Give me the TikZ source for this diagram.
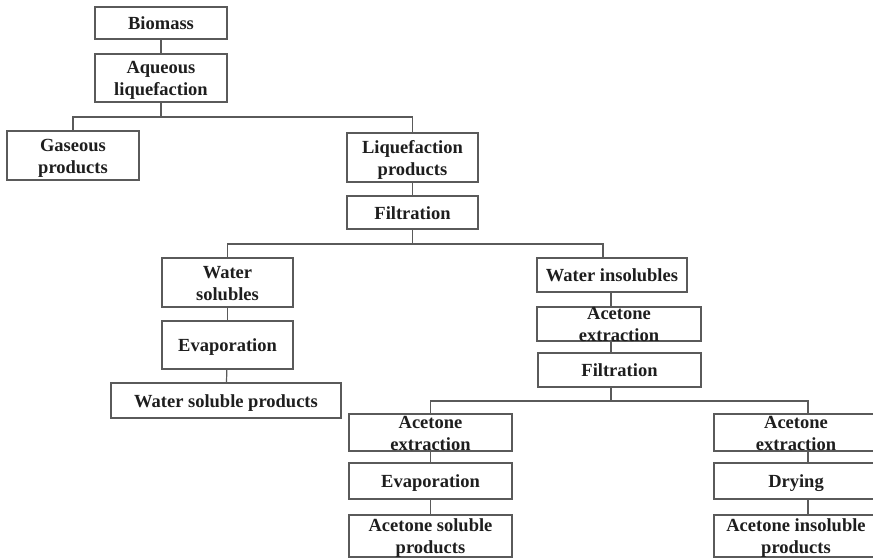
\documentclass[tikz,border=0pt]{standalone}
\usepackage{fontspec}
\setmainfont{Liberation Serif}
\definecolor{boxc}{HTML}{5A5A5A}
\definecolor{txtc}{HTML}{1E1E1E}
\newcommand{\bxt}[1]{\smash{\raisebox{-6.5pt}{\begin{tabular}{@{}c@{}}#1\end{tabular}}}}
\begin{document}
\begin{tikzpicture}[x=1pt,y=-1pt,
  box/.style={draw=boxc, line width=1.2pt, inner sep=0pt, text=txtc,
    font=\fontsize{18.5}{22}\selectfont\bfseries},
  conn/.style={draw=boxc, line width=1.2pt}]
\useasboundingbox (0,0) rectangle (873,558);
% top part
\node[box, minimum width=132pt, minimum height=32pt] (bio) at (161,23) {\bxt{Biomass}};
\node[box, minimum width=132pt, minimum height=48pt] (aq) at (161,78) {\bxt{Aqueous\\liquefaction}};
\node[box, minimum width=132pt, minimum height=49pt] (gas) at (73,155.5) {\bxt{Gaseous\\products}};
\node[box, minimum width=131pt, minimum height=49pt] (liq) at (412.5,157.5) {\bxt{Liquefaction\\products}};
\node[box, minimum width=131pt, minimum height=33pt] (filt) at (412.5,212.5) {\bxt{Filtration}};
% left branch
\node[box, minimum width=131pt, minimum height=49pt] (ws) at (227.5,282.5) {\bxt{Water\\solubles}};
\node[box, minimum width=131pt, minimum height=48pt] (evap) at (227.5,345) {\bxt{Evaporation}};
\node[box, minimum width=230pt, minimum height=35pt] (wsp) at (226,400.5) {\bxt{Water soluble products}};
% right branch
\node[box, minimum width=150pt, minimum height=34pt] (wi) at (612,275) {\bxt{Water insolubles}};
\node[box, minimum width=164pt, minimum height=34pt] (ae) at (619,324) {\bxt{Acetone\\extraction}};
\node[box, minimum width=163pt, minimum height=34pt] (filtb) at (619.5,370) {\bxt{Filtration}};
% bottom left
\node[box, minimum width=163pt, minimum height=37pt] (ael) at (430.5,432.5) {\bxt{Acetone\\extraction}};
\node[box, minimum width=163pt, minimum height=36pt] (evl) at (430.5,481) {\bxt{Evaporation}};
\node[box, minimum width=163pt, minimum height=42pt] (asp) at (430.5,536) {\bxt{Acetone soluble\\products}};
% bottom right
\node[box, minimum width=164pt, minimum height=37pt] (aer) at (796,432.5) {\bxt{Acetone\\extraction}};
\node[box, minimum width=164pt, minimum height=36pt] (dry) at (796,481) {\bxt{Drying}};
\node[box, minimum width=164pt, minimum height=42pt] (aip) at (796,536) {\bxt{Acetone insoluble\\products}};
% helper coordinates
\coordinate (h1) at (0,117);
\coordinate (h2) at (0,244);
\coordinate (h3) at (0,401);
\coordinate (wic) at (603,0);
\coordinate (mc) at (611,0);
\coordinate (rc) at (808,0);
% connectors
\draw[conn] (bio) -- (aq);
\draw[conn] (aq.south) -- (aq.south |- h1) -| (gas.north);
\draw[conn] (aq.south |- h1) -| (liq.north);
\draw[conn] (liq) -- (filt);
\draw[conn] (filt.south) -- (filt.south |- h2) -| (ws.north);
\draw[conn] (filt.south |- h2) -| (wi.north -| wic);
\draw[conn] (ws) -- (evap);
\draw[conn] (evap) -- (wsp);
\draw[conn] (wi.south -| mc) -- (ae.north -| mc);
\draw[conn] (ae.south -| mc) -- (filtb.north -| mc);
\draw[conn] (filtb.south -| mc) -- (h3 -| mc);
\draw[conn] (h3 -| mc) -| (ael.north);
\draw[conn] (h3 -| mc) -| (aer.north -| rc);
\draw[conn] (ael) -- (evl);
\draw[conn] (evl) -- (asp);
\draw[conn] (aer.south -| rc) -- (dry.north -| rc);
\draw[conn] (dry.south -| rc) -- (aip.north -| rc);
\end{tikzpicture}
\end{document}
